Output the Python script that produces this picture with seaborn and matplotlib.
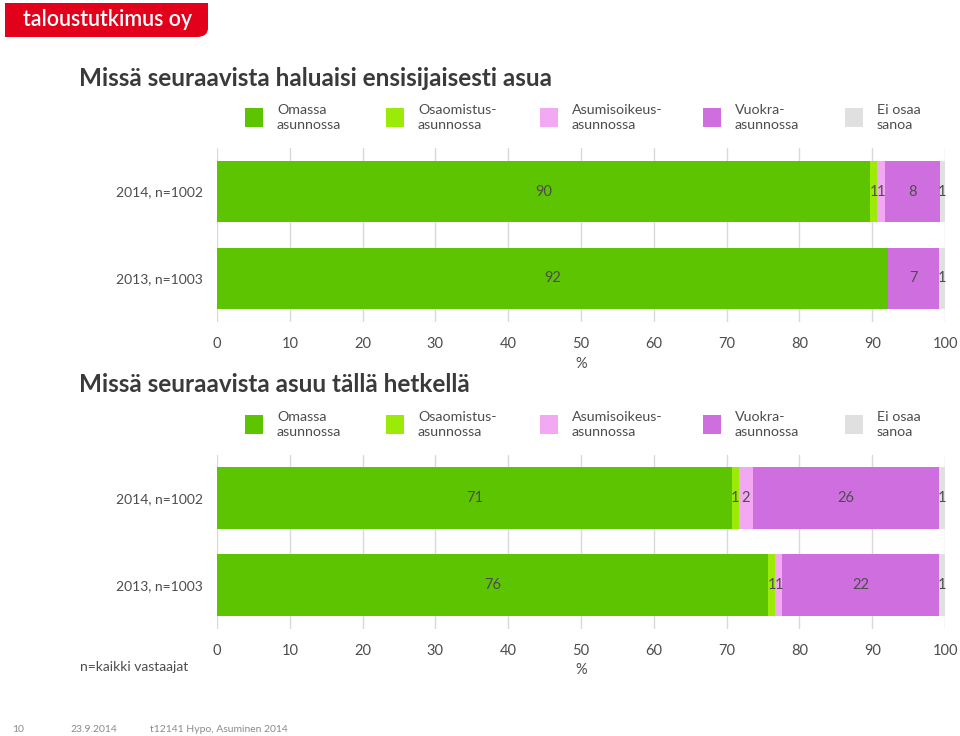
import matplotlib
matplotlib.use("Agg")
import matplotlib.pyplot as plt
from matplotlib.patches import Rectangle, FancyBboxPatch
import seaborn as sns
import pandas as pd
import numpy as np

# ---------------- data ----------------
categories = ["Omassa\nasunnossa", "Osaomistus-\nasunnossa", "Asumisoikeus-\nasunnossa",
              "Vuokra-\nasunnossa", "Ei osaa\nsanoa"]
years = ["2014, n=1002", "2013, n=1003"]

# Chart 1: Missä seuraavista haluaisi ensisijaisesti asua
want_2014 = [89.7, 1.0, 1.0, 7.6, 0.7]
want_2013 = [92.2, 0.0, 0.0, 7.0, 0.8]
# Chart 2: Missä seuraavista asuu tällä hetkellä
live_2014 = [70.7, 1.0, 1.9, 25.6, 0.8]
live_2013 = [75.7, 1.0, 0.9, 21.6, 0.8]

title1 = "Missä seuraavista haluaisi ensisijaisesti asua"
title2 = "Missä seuraavista asuu tällä hetkellä"
x_ticks = [0, 10, 20, 30, 40, 50, 60, 70, 80, 90, 100]

colors = ["#5cc400", "#9bea08", "#f3a8f3", "#cf6fdf", "#e0e0e0"]
text_col = "#4d4d4d"

# ---------------- style ----------------
sns.set_theme(style="white")
plt.rcParams["font.family"] = ["Lato", "DejaVu Sans"]

W, H = 960, 736
fig = plt.figure(figsize=(W / 100, H / 100), dpi=100)


def fx(px):
    return px / W


def fy(py):
    return 1 - py / H


def draw_chart(top_px, rows):
    height_px = 174
    ax = fig.add_axes([fx(217), fy(top_px + height_px), fx(945) - fx(217), height_px / H])
    vals = np.array(rows)  # shape (2 rows, 5 cats)
    cums = np.cumsum(vals, axis=1)
    # draw from the outermost cumulative inward
    for j in range(len(categories) - 1, -1, -1):
        df = pd.DataFrame({"year": years, "cum": cums[:, j]})
        sns.barplot(data=df, y="year", x="cum", order=years, orient="h",
                    color=colors[j], saturation=1, width=0.71, errorbar=None,
                    linewidth=0, ax=ax, zorder=3)
    # labels
    for i in range(len(years)):
        for j in range(len(categories)):
            v = vals[i, j]
            if v <= 0:
                continue
            center = cums[i, j] - v / 2
            ax.text(center, i, f"{int(round(v))}", ha="center", va="center",
                    fontsize=10.5, color=text_col, zorder=5)
    ax.set_xlim(0, 100)
    ax.set_ylim(1.5, -0.5)
    ax.set_xticks(x_ticks)
    ax.set_xticklabels([str(t) for t in x_ticks])
    ax.xaxis.grid(True, color="#d9d9d9", linewidth=1, zorder=0)
    ax.set_axisbelow(True)
    for s in ax.spines.values():
        s.set_visible(False)
    ax.tick_params(axis="x", length=0, pad=11, labelsize=10.5, labelcolor=text_col)
    ax.tick_params(axis="y", length=0, pad=10, labelsize=10, labelcolor=text_col)
    ax.set_ylabel("")
    ax.set_xlabel("%", fontsize=10.5, color=text_col, labelpad=4)
    return ax


def draw_legend(sq_top_px):
    sq_x = [245, 386, 540, 703, 845]
    for k, (x, lab) in enumerate(zip(sq_x, categories)):
        fig.patches.append(Rectangle((fx(x), fy(sq_top_px + 19)), 18 / W, 19 / H,
                                     transform=fig.transFigure, facecolor=colors[k],
                                     edgecolor="none"))
        fig.text(fx(x + 32), fy(sq_top_px + 9.5), lab, ha="left", va="center",
                 fontsize=10.3, color=text_col, linespacing=1.35)


# logo (square corners except a rounded bottom-right)
red = "#e2001a"
fig.patches.append(FancyBboxPatch((fx(5), fy(37)), (208 - 5) / W, 34 / H,
                                  boxstyle="round,pad=0,rounding_size=0.012",
                                  transform=fig.transFigure,
                                  facecolor=red, edgecolor="none"))
fig.patches.append(Rectangle((fx(5), fy(37)), 180 / W, 34 / H, transform=fig.transFigure,
                             facecolor=red, edgecolor="none"))
fig.patches.append(Rectangle((fx(5), fy(25)), 203 / W, 22 / H, transform=fig.transFigure,
                             facecolor=red, edgecolor="none"))
fig.text(fx(23), fy(20), "taloustutkimus oy", ha="left", va="center",
         fontsize=15.5, fontweight="semibold", color="white")

# chart 1
fig.text(fx(79), fy(78), title1, ha="left", va="center", fontsize=17.5,
         fontweight="bold", color="#3a3a3a")
draw_legend(108)
draw_chart(148, [want_2014, want_2013])

# chart 2
fig.text(fx(79), fy(384), title2, ha="left", va="center", fontsize=17.5,
         fontweight="bold", color="#3a3a3a")
draw_legend(415)
draw_chart(454.5, [live_2014, live_2013])

fig.text(fx(80), fy(667), "n=kaikki vastaajat", ha="left", va="center",
         fontsize=10, color=text_col)

# footer
for x, t in [(12, "10"), (70, "23.9.2014"), (150, "t12141 Hypo, Asuminen 2014")]:
    fig.text(fx(x), fy(730), t, ha="left", va="center", fontsize=7.5, color="#8a8a8a")

fig.savefig("out.png", dpi=100)
